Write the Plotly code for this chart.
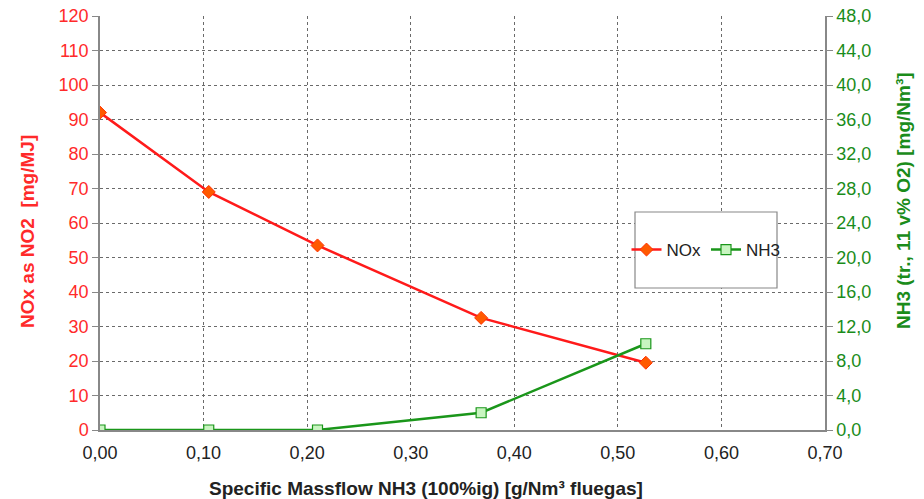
import plotly.graph_objects as go

massflow = [0.0, 0.105, 0.21, 0.368, 0.527]
nox = [92.0, 69.0, 53.5, 32.5, 19.5]
nh3 = [0.0, 0.0, 0.0, 2.0, 10.0]

# plot area in page pixels: x 100..825, y 16..430
def px(x):
    return (x - 100) / 725

def py(y):
    return (430 - y) / 414

fig = go.Figure()
fig.add_trace(go.Scatter(
    x=massflow, y=nox, name="NOx", mode="lines+markers",
    line=dict(color="#ff1a1a", width=2.5),
    marker=dict(symbol="diamond", size=10, color="#ff5a00", line=dict(color="#ff3000", width=1)),
    yaxis="y"))
fig.add_trace(go.Scatter(
    x=massflow, y=nh3, name="NH3", mode="lines+markers",
    line=dict(color="#1a961a", width=2.5),
    marker=dict(symbol="square", size=10, color="#c8f5c0", line=dict(color="#1a961a", width=1.2)),
    yaxis="y2"))

grid = dict(showgrid=True, gridcolor="#6a6a6a", griddash="dot", gridwidth=1)
fig.update_layout(
    width=924, height=499,
    margin=dict(l=100, r=99, t=16, b=69),
    paper_bgcolor="white", plot_bgcolor="white",
    separators=",.",
    font=dict(family="Liberation Sans, Arial, sans-serif", size=18),
    xaxis=dict(range=[0, 0.7], dtick=0.1, tickformat=".2f", **grid, automargin=False,
               showline=True, linecolor="#888888", linewidth=1.5, ticks="",
               ticklabeloverflow="allow", ticklabelstandoff=6,
               tickfont=dict(color="#222222", size=18), zeroline=False),
    yaxis=dict(range=[0, 120], dtick=10, **grid, automargin=False,
               showline=True, linecolor="#888888", linewidth=1.5,
               ticks="outside", ticklen=6, tickcolor="#888888",
               ticklabeloverflow="allow",
               tickfont=dict(color="#ff2a2a", size=18), zeroline=False),
    yaxis2=dict(range=[0, 48], dtick=4, tickformat=".1f", overlaying="y", side="right", automargin=False,
                showgrid=False, showline=True, linecolor="#888888", linewidth=1.5,
                ticks="outside", ticklen=6, tickcolor="#888888",
                ticklabeloverflow="allow",
                tickfont=dict(color="#1a8c1a", size=18), zeroline=False),
    legend=dict(orientation="h", x=px(706), y=py(250), xanchor="center", yanchor="middle",
                bgcolor="rgba(0,0,0,0)", borderwidth=0,
                font=dict(size=17, color="#222222"), itemwidth=30, tracegroupgap=0),
    showlegend=True,
)
fig.add_shape(type="rect", xref="paper", yref="paper",
              x0=px(635), x1=px(777), y0=py(288), y1=py(212),
              line=dict(color="#888888", width=1.2), fillcolor="white", layer="above")

fig.add_annotation(text="<b>Specific Massflow NH3 (100%ig) [g/Nm³ fluegas]</b>",
                   xref="paper", yref="paper", x=px(426), y=py(488), showarrow=False,
                   xanchor="center", yanchor="middle", font=dict(size=19, color="#222222"))
fig.add_annotation(text="<b>NOx as NO2  [mg/MJ]</b>",
                   xref="paper", yref="paper", x=px(27), y=py(232), showarrow=False, textangle=-90,
                   xanchor="center", yanchor="middle", font=dict(size=19, color="#ff2a2a"))
fig.add_annotation(text="<b>NH3 (tr., 11 v% O2) [mg/Nm³]</b>",
                   xref="paper", yref="paper", x=px(903), y=py(200), showarrow=False, textangle=-90,
                   xanchor="center", yanchor="middle", font=dict(size=19, color="#1a8c1a"))

fig.write_html("out.html", config={"displayModeBar": False},
               post_script="document.body.style.margin='0';")
